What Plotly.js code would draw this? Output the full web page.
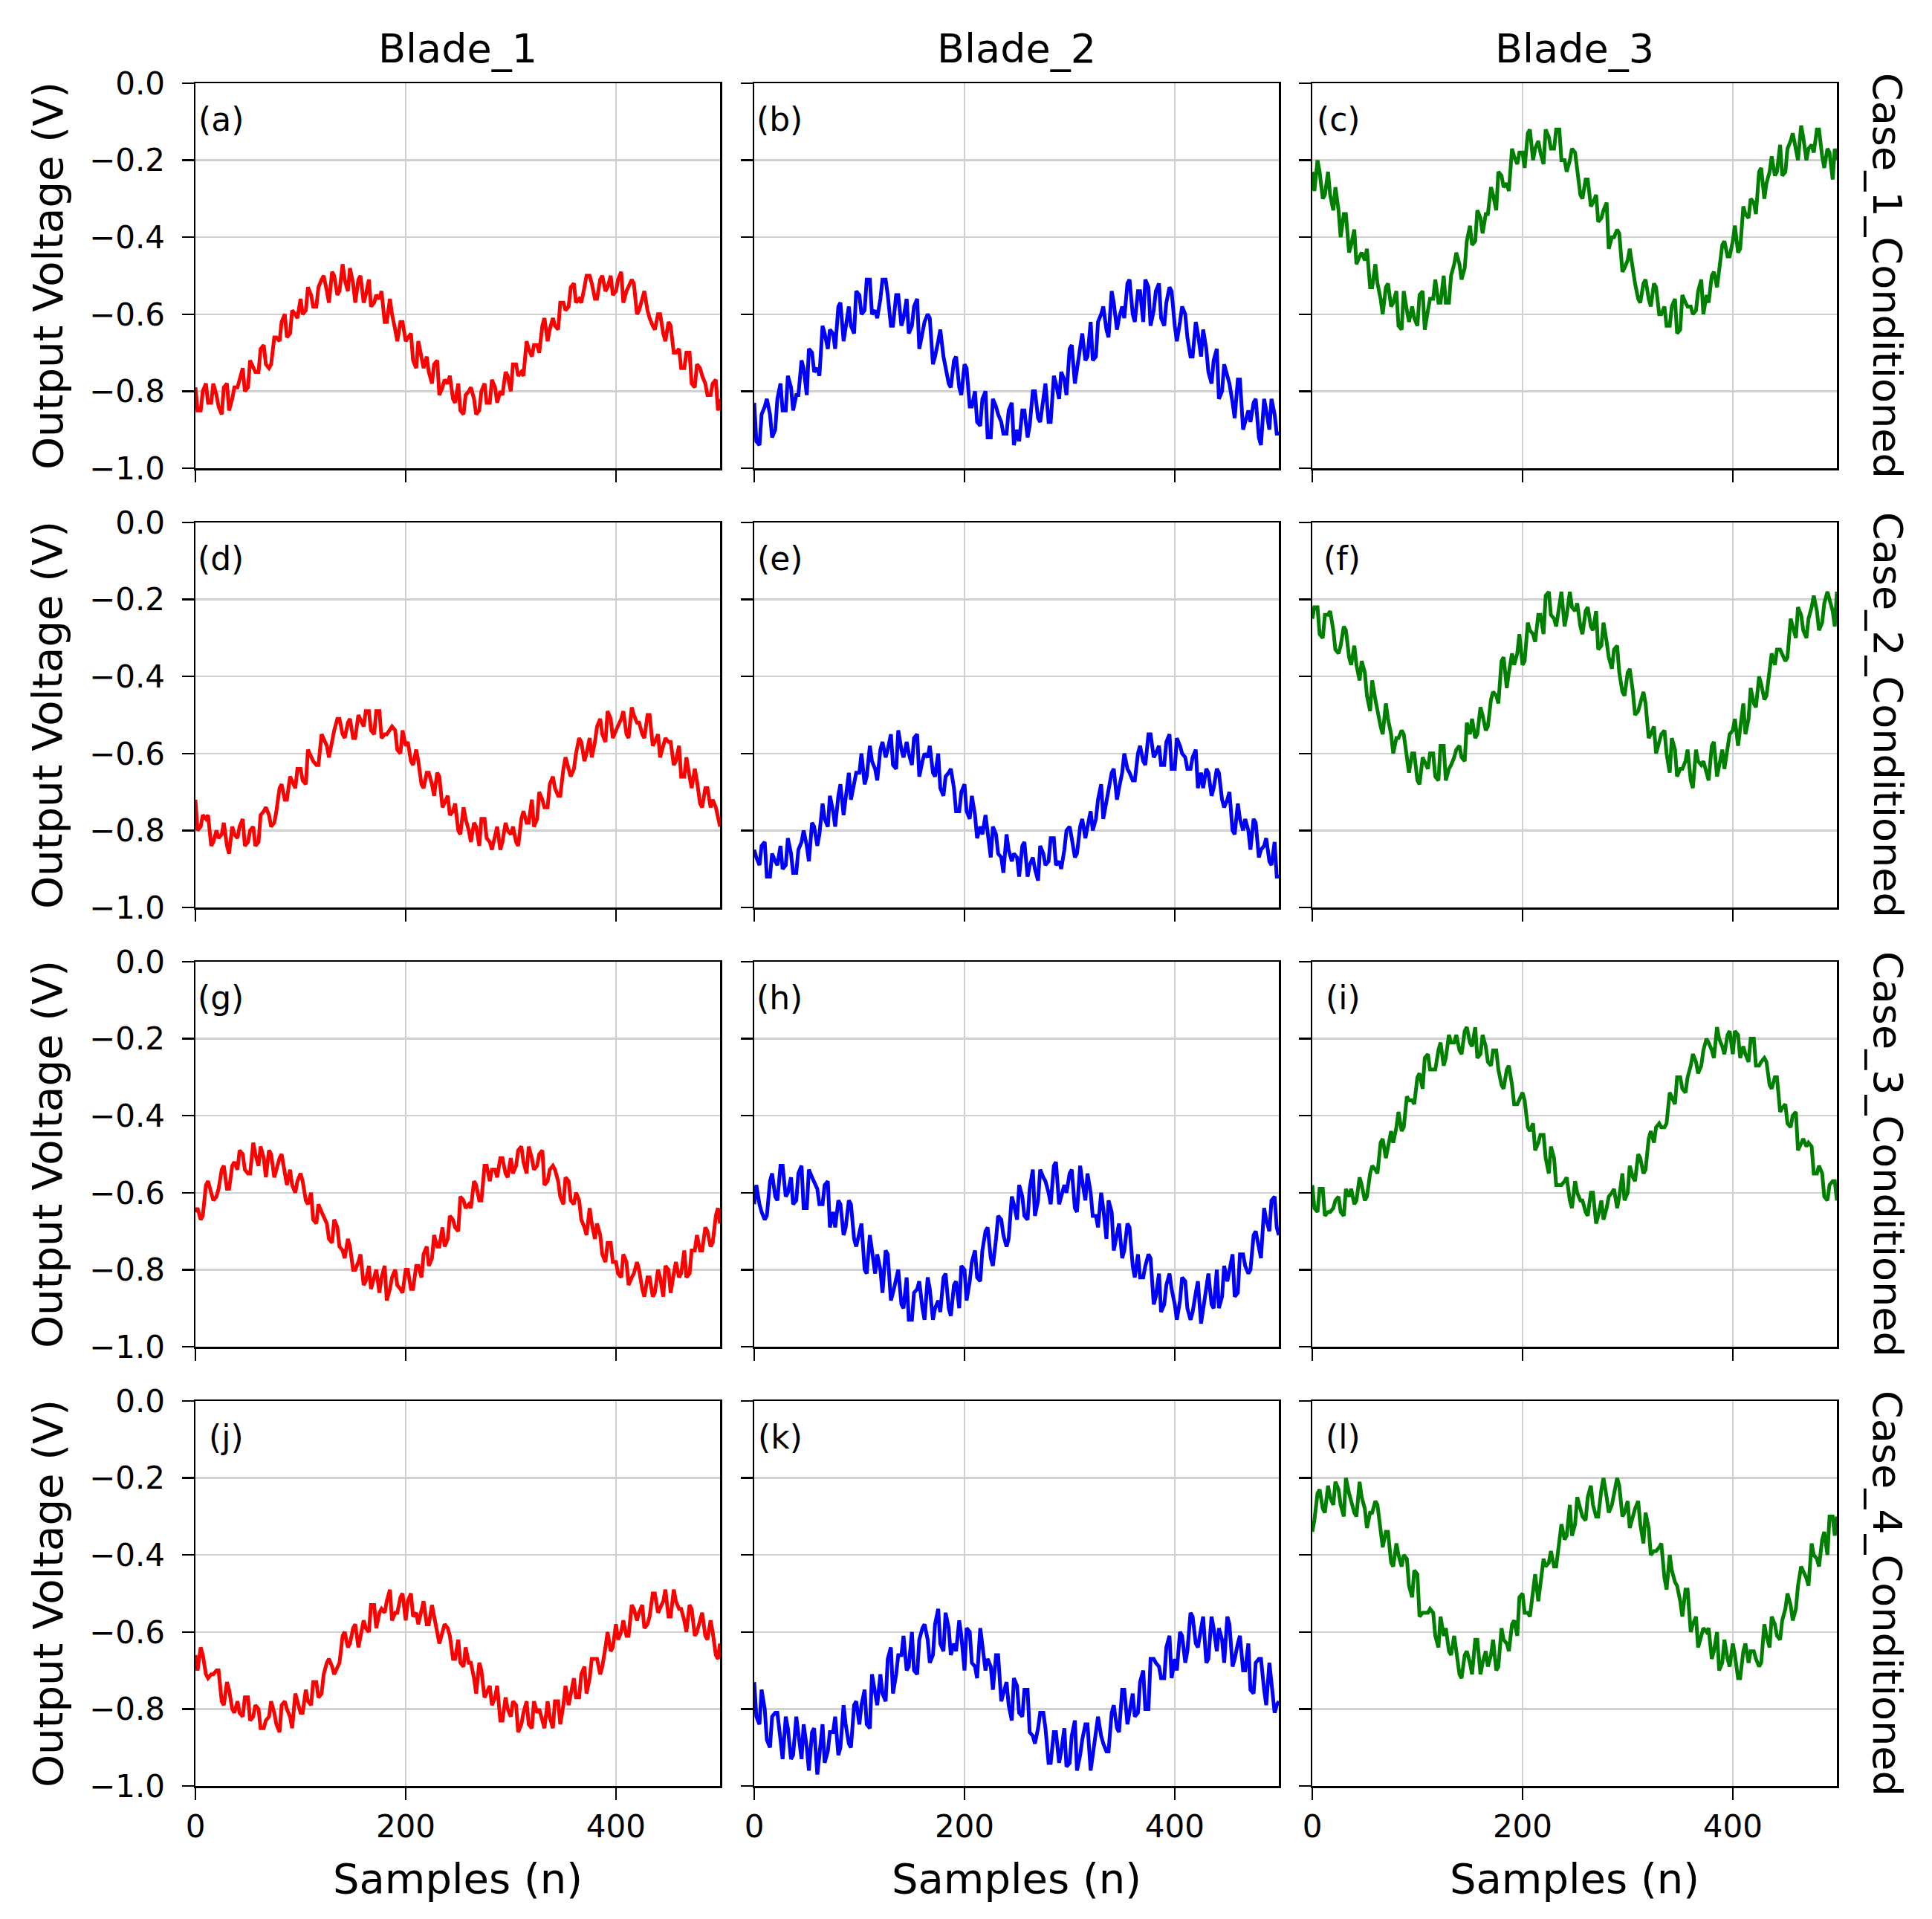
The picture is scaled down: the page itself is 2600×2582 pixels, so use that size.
<!DOCTYPE html>
<html>
<head>
<meta charset="utf-8">
<script src="https://cdn.plot.ly/plotly-3.0.1.min.js"></script>
<style>html,body{margin:0;padding:0;background:#ffffff;}</style>
</head>
<body>
<div id="chart" style="width:2600px;height:2582px;"></div>
<script>
// ---------------- data ----------------
const blades = ["Blade_1", "Blade_2", "Blade_3"];
const cases = ["Case_1_Conditioned", "Case_2_Conditioned", "Case_3_Conditioned", "Case_4_Conditioned"];
const panelLabels = ["(a)","(b)","(c)","(d)","(e)","(f)","(g)","(h)","(i)","(j)","(k)","(l)"];
const bladeColors = ["#ff0000", "#0000ff", "#008000"];
const xTickVals = [0, 200, 400];
const xTickText = ["0", "200", "400"];
const yTickVals = [0, -0.2, -0.4, -0.6, -0.8, -1.0];
const yTickText = ["0.0", "\u22120.2", "\u22120.4", "\u22120.6", "\u22120.8", "\u22121.0"];

// sample indices: readings at n = 0,5,...,495,499 and in-between readings at n = 2,7,...,497
const samplesMain = [];
for (let n = 0; n < 500; n += 5) samplesMain.push(n);
samplesMain.push(499);
const samplesMid = [];
for (let n = 2; n < 500; n += 5) samplesMid.push(n);

// Output voltage (V)
const case1_blade1 = [
-0.79,-0.85,-0.78,-0.83,-0.81,-0.86,-0.78,-0.82,-0.79,-0.74,
-0.79,-0.74,-0.75,-0.68,-0.74,-0.66,-0.67,-0.60,-0.65,-0.60,
-0.56,-0.59,-0.55,-0.58,-0.51,-0.54,-0.49,-0.55,-0.47,-0.54,
-0.52,-0.51,-0.57,-0.51,-0.57,-0.56,-0.62,-0.56,-0.64,-0.62,
-0.67,-0.65,-0.74,-0.71,-0.71,-0.78,-0.72,-0.79,-0.78,-0.82,
-0.78,-0.86,-0.80,-0.82,-0.85,-0.78,-0.83,-0.79,-0.80,-0.75,
-0.80,-0.73,-0.75,-0.67,-0.71,-0.68,-0.63,-0.67,-0.61,-0.64,
-0.57,-0.58,-0.52,-0.56,-0.53,-0.50,-0.56,-0.51,-0.54,-0.50,
-0.54,-0.49,-0.54,-0.51,-0.60,-0.56,-0.59,-0.63,-0.60,-0.65,
-0.62,-0.70,-0.69,-0.74,-0.70,-0.79,-0.74,-0.78,-0.81,-0.77,
-0.82];
const case1_blade1_mid = [
-0.85,-0.80,-0.83,-0.78,-0.84,-0.79,-0.85,-0.79,-0.77,-0.80,
-0.72,-0.75,-0.69,-0.73,-0.73,-0.66,-0.62,-0.66,-0.59,-0.61,
-0.60,-0.53,-0.58,-0.53,-0.50,-0.57,-0.50,-0.54,-0.51,-0.48,
-0.57,-0.50,-0.55,-0.58,-0.55,-0.54,-0.62,-0.60,-0.67,-0.62,
-0.66,-0.72,-0.67,-0.74,-0.75,-0.73,-0.81,-0.77,-0.76,-0.83,
-0.85,-0.81,-0.79,-0.86,-0.80,-0.83,-0.77,-0.83,-0.81,-0.76,
-0.73,-0.76,-0.76,-0.69,-0.68,-0.70,-0.61,-0.64,-0.63,-0.57,
-0.59,-0.53,-0.57,-0.57,-0.50,-0.52,-0.56,-0.50,-0.53,-0.55,
-0.51,-0.57,-0.53,-0.52,-0.59,-0.54,-0.61,-0.64,-0.60,-0.67,
-0.63,-0.70,-0.74,-0.70,-0.78,-0.73,-0.76,-0.81,-0.78,-0.85];
const case1_blade2 = [
-0.83,-0.94,-0.84,-0.86,-0.90,-0.78,-0.85,-0.79,-0.81,-0.72,
-0.81,-0.70,-0.74,-0.63,-0.69,-0.65,-0.58,-0.67,-0.58,-0.65,
-0.55,-0.59,-0.51,-0.59,-0.56,-0.51,-0.63,-0.55,-0.63,-0.56,
-0.63,-0.56,-0.65,-0.60,-0.73,-0.67,-0.71,-0.78,-0.72,-0.79,
-0.73,-0.84,-0.80,-0.89,-0.80,-0.92,-0.84,-0.88,-0.91,-0.83,
-0.90,-0.85,-0.92,-0.80,-0.87,-0.82,-0.88,-0.76,-0.82,-0.77,
-0.69,-0.78,-0.69,-0.72,-0.62,-0.71,-0.60,-0.64,-0.54,-0.64,
-0.58,-0.52,-0.60,-0.54,-0.62,-0.53,-0.59,-0.52,-0.63,-0.53,
-0.63,-0.62,-0.60,-0.71,-0.62,-0.71,-0.69,-0.78,-0.69,-0.80,
-0.76,-0.83,-0.77,-0.90,-0.85,-0.83,-0.92,-0.82,-0.90,-0.86,
-0.91];
const case1_blade2_mid = [
-0.93,-0.86,-0.82,-0.92,-0.82,-0.85,-0.76,-0.85,-0.81,-0.74,
-0.69,-0.75,-0.76,-0.65,-0.64,-0.69,-0.57,-0.63,-0.63,-0.54,
-0.60,-0.51,-0.60,-0.61,-0.51,-0.55,-0.63,-0.55,-0.61,-0.65,
-0.58,-0.69,-0.62,-0.61,-0.71,-0.64,-0.74,-0.79,-0.71,-0.81,
-0.74,-0.84,-0.88,-0.82,-0.92,-0.82,-0.86,-0.91,-0.85,-0.94,
-0.93,-0.85,-0.89,-0.80,-0.88,-0.78,-0.88,-0.78,-0.75,-0.81,
-0.68,-0.74,-0.65,-0.71,-0.72,-0.62,-0.58,-0.66,-0.57,-0.61,
-0.61,-0.51,-0.62,-0.54,-0.51,-0.63,-0.54,-0.61,-0.57,-0.54,
-0.67,-0.58,-0.66,-0.71,-0.65,-0.64,-0.75,-0.72,-0.82,-0.73,
-0.78,-0.87,-0.77,-0.88,-0.88,-0.82,-0.94,-0.85,-0.82,-0.91];
const case1_blade3 = [
-0.23,-0.20,-0.30,-0.23,-0.33,-0.33,-0.34,-0.44,-0.38,-0.45,
-0.46,-0.53,-0.47,-0.56,-0.53,-0.58,-0.54,-0.64,-0.59,-0.58,
-0.63,-0.54,-0.59,-0.56,-0.57,-0.50,-0.57,-0.47,-0.47,-0.48,
-0.37,-0.41,-0.35,-0.34,-0.27,-0.33,-0.24,-0.26,-0.17,-0.21,
-0.18,-0.13,-0.20,-0.15,-0.21,-0.14,-0.17,-0.12,-0.20,-0.20,
-0.18,-0.29,-0.25,-0.32,-0.29,-0.35,-0.31,-0.40,-0.38,-0.49,
-0.46,-0.49,-0.56,-0.52,-0.56,-0.52,-0.60,-0.58,-0.63,-0.56,
-0.64,-0.57,-0.58,-0.59,-0.51,-0.55,-0.50,-0.53,-0.42,-0.45,
-0.41,-0.44,-0.32,-0.35,-0.31,-0.23,-0.30,-0.23,-0.24,-0.16,
-0.23,-0.15,-0.17,-0.11,-0.20,-0.16,-0.12,-0.19,-0.17,-0.25,
-0.20];
const case1_blade3_mid = [
-0.28,-0.23,-0.29,-0.29,-0.27,-0.40,-0.34,-0.42,-0.47,-0.44,
-0.43,-0.53,-0.52,-0.60,-0.52,-0.57,-0.63,-0.54,-0.62,-0.61,
-0.55,-0.64,-0.56,-0.51,-0.57,-0.57,-0.50,-0.44,-0.51,-0.41,
-0.42,-0.33,-0.39,-0.34,-0.29,-0.23,-0.27,-0.28,-0.19,-0.18,
-0.22,-0.12,-0.17,-0.18,-0.12,-0.17,-0.12,-0.20,-0.23,-0.17,
-0.22,-0.30,-0.25,-0.31,-0.36,-0.33,-0.43,-0.40,-0.39,-0.48,
-0.43,-0.52,-0.57,-0.51,-0.58,-0.53,-0.60,-0.63,-0.58,-0.65,
-0.55,-0.58,-0.60,-0.54,-0.60,-0.57,-0.49,-0.49,-0.41,-0.45,
-0.37,-0.43,-0.34,-0.30,-0.34,-0.22,-0.26,-0.19,-0.23,-0.24,
-0.17,-0.13,-0.20,-0.14,-0.17,-0.18,-0.12,-0.22,-0.18,-0.17];
const case2_blade1 = [
-0.72,-0.79,-0.77,-0.84,-0.80,-0.81,-0.84,-0.79,-0.82,-0.77,
-0.83,-0.79,-0.83,-0.75,-0.76,-0.78,-0.69,-0.72,-0.66,-0.69,
-0.64,-0.68,-0.61,-0.63,-0.55,-0.58,-0.56,-0.51,-0.55,-0.52,
-0.56,-0.50,-0.53,-0.49,-0.55,-0.49,-0.55,-0.54,-0.54,-0.60,
-0.58,-0.62,-0.59,-0.68,-0.65,-0.68,-0.65,-0.74,-0.71,-0.75,
-0.80,-0.74,-0.80,-0.78,-0.84,-0.77,-0.83,-0.81,-0.85,-0.78,
-0.81,-0.83,-0.77,-0.78,-0.72,-0.77,-0.72,-0.74,-0.66,-0.71,
-0.64,-0.64,-0.64,-0.56,-0.62,-0.56,-0.57,-0.51,-0.57,-0.51,
-0.54,-0.51,-0.55,-0.48,-0.52,-0.55,-0.50,-0.58,-0.55,-0.58,
-0.57,-0.63,-0.58,-0.66,-0.66,-0.64,-0.73,-0.69,-0.74,-0.74,
-0.79];
const case2_blade1_mid = [
-0.80,-0.76,-0.76,-0.83,-0.82,-0.78,-0.86,-0.81,-0.79,-0.84,
-0.80,-0.84,-0.76,-0.74,-0.79,-0.75,-0.68,-0.72,-0.67,-0.64,
-0.67,-0.59,-0.62,-0.63,-0.56,-0.61,-0.54,-0.51,-0.56,-0.51,
-0.56,-0.51,-0.49,-0.54,-0.49,-0.56,-0.55,-0.53,-0.59,-0.54,
-0.57,-0.63,-0.62,-0.69,-0.65,-0.71,-0.66,-0.73,-0.76,-0.73,
-0.81,-0.77,-0.83,-0.79,-0.77,-0.82,-0.85,-0.79,-0.83,-0.80,
-0.79,-0.84,-0.75,-0.78,-0.79,-0.70,-0.74,-0.68,-0.69,-0.71,
-0.61,-0.66,-0.60,-0.57,-0.60,-0.61,-0.53,-0.55,-0.49,-0.56,
-0.53,-0.49,-0.56,-0.50,-0.52,-0.56,-0.50,-0.57,-0.61,-0.56,
-0.57,-0.62,-0.66,-0.61,-0.69,-0.67,-0.74,-0.69,-0.72,-0.77];
const case2_blade2 = [
-0.85,-0.89,-0.83,-0.92,-0.88,-0.84,-0.89,-0.86,-0.91,-0.83,
-0.84,-0.78,-0.84,-0.73,-0.79,-0.75,-0.71,-0.76,-0.65,-0.68,
-0.65,-0.68,-0.58,-0.64,-0.59,-0.61,-0.55,-0.64,-0.59,-0.57,
-0.63,-0.55,-0.62,-0.61,-0.65,-0.60,-0.71,-0.65,-0.69,-0.75,
-0.68,-0.77,-0.76,-0.79,-0.76,-0.87,-0.81,-0.87,-0.81,-0.88,
-0.87,-0.84,-0.92,-0.87,-0.93,-0.86,-0.88,-0.82,-0.88,-0.85,
-0.79,-0.87,-0.79,-0.82,-0.75,-0.77,-0.68,-0.72,-0.65,-0.72,
-0.65,-0.64,-0.67,-0.60,-0.62,-0.55,-0.61,-0.58,-0.63,-0.55,
-0.64,-0.58,-0.61,-0.64,-0.59,-0.65,-0.64,-0.71,-0.64,-0.72,
-0.72,-0.80,-0.73,-0.80,-0.80,-0.77,-0.87,-0.84,-0.88,-0.83,
-0.92];
const case2_blade2_mid = [
-0.87,-0.84,-0.92,-0.86,-0.89,-0.90,-0.82,-0.91,-0.85,-0.80,
-0.88,-0.79,-0.81,-0.77,-0.71,-0.79,-0.68,-0.71,-0.72,-0.65,
-0.60,-0.66,-0.62,-0.67,-0.57,-0.59,-0.63,-0.54,-0.61,-0.60,
-0.56,-0.66,-0.60,-0.58,-0.66,-0.69,-0.66,-0.64,-0.75,-0.70,
-0.75,-0.71,-0.82,-0.81,-0.80,-0.79,-0.86,-0.91,-0.85,-0.86,
-0.92,-0.83,-0.89,-0.90,-0.84,-0.89,-0.82,-0.89,-0.90,-0.80,
-0.82,-0.86,-0.77,-0.79,-0.80,-0.72,-0.77,-0.69,-0.64,-0.69,
-0.60,-0.65,-0.67,-0.58,-0.63,-0.55,-0.60,-0.63,-0.57,-0.64,
-0.56,-0.60,-0.64,-0.61,-0.69,-0.69,-0.65,-0.69,-0.65,-0.74,
-0.70,-0.81,-0.77,-0.77,-0.85,-0.78,-0.85,-0.82,-0.89,-0.92];
const case2_blade3 = [
-0.25,-0.22,-0.30,-0.24,-0.28,-0.34,-0.27,-0.35,-0.32,-0.41,
-0.39,-0.49,-0.46,-0.53,-0.47,-0.55,-0.56,-0.54,-0.62,-0.60,
-0.67,-0.61,-0.64,-0.60,-0.67,-0.58,-0.64,-0.61,-0.58,-0.62,
-0.55,-0.56,-0.48,-0.54,-0.46,-0.45,-0.36,-0.43,-0.34,-0.34,
-0.37,-0.26,-0.29,-0.24,-0.29,-0.18,-0.25,-0.21,-0.27,-0.18,
-0.23,-0.27,-0.23,-0.27,-0.23,-0.32,-0.31,-0.38,-0.32,-0.44,
-0.39,-0.44,-0.49,-0.44,-0.56,-0.53,-0.57,-0.54,-0.65,-0.59,
-0.64,-0.62,-0.67,-0.59,-0.63,-0.65,-0.58,-0.66,-0.59,-0.59,
-0.54,-0.58,-0.47,-0.51,-0.47,-0.40,-0.46,-0.37,-0.37,-0.33,
-0.36,-0.25,-0.30,-0.24,-0.30,-0.22,-0.23,-0.26,-0.18,-0.23,
-0.18];
const case2_blade3_mid = [
-0.22,-0.29,-0.24,-0.23,-0.33,-0.32,-0.28,-0.37,-0.37,-0.36,
-0.45,-0.41,-0.49,-0.55,-0.51,-0.60,-0.56,-0.55,-0.65,-0.60,
-0.68,-0.62,-0.60,-0.66,-0.58,-0.67,-0.63,-0.59,-0.61,-0.52,
-0.51,-0.55,-0.50,-0.53,-0.44,-0.47,-0.35,-0.39,-0.37,-0.29,
-0.36,-0.28,-0.31,-0.24,-0.19,-0.24,-0.27,-0.18,-0.24,-0.22,
-0.21,-0.29,-0.22,-0.28,-0.33,-0.26,-0.35,-0.33,-0.39,-0.45,
-0.38,-0.50,-0.47,-0.47,-0.55,-0.60,-0.55,-0.60,-0.56,-0.66,
-0.64,-0.59,-0.69,-0.62,-0.62,-0.67,-0.57,-0.63,-0.64,-0.55,
-0.51,-0.54,-0.55,-0.43,-0.48,-0.42,-0.45,-0.34,-0.33,-0.34,
-0.35,-0.27,-0.22,-0.28,-0.25,-0.19,-0.28,-0.21,-0.20,-0.27];
const case3_blade1 = [
-0.65,-0.67,-0.58,-0.60,-0.61,-0.54,-0.59,-0.53,-0.54,-0.50,
-0.55,-0.47,-0.53,-0.51,-0.49,-0.56,-0.51,-0.55,-0.54,-0.60,
-0.55,-0.62,-0.60,-0.68,-0.65,-0.68,-0.73,-0.69,-0.75,-0.72,
-0.80,-0.78,-0.84,-0.79,-0.82,-0.86,-0.79,-0.85,-0.80,-0.85,
-0.80,-0.85,-0.79,-0.82,-0.74,-0.77,-0.74,-0.69,-0.72,-0.67,
-0.70,-0.62,-0.63,-0.57,-0.62,-0.53,-0.57,-0.54,-0.51,-0.55,
-0.51,-0.53,-0.48,-0.55,-0.51,-0.53,-0.49,-0.57,-0.53,-0.57,
-0.63,-0.57,-0.63,-0.62,-0.69,-0.64,-0.72,-0.71,-0.78,-0.73,
-0.78,-0.82,-0.78,-0.82,-0.78,-0.85,-0.82,-0.87,-0.80,-0.87,
-0.80,-0.81,-0.82,-0.75,-0.81,-0.75,-0.75,-0.69,-0.74,-0.66,
-0.68];
const case3_blade1_mid = [
-0.64,-0.66,-0.57,-0.62,-0.59,-0.53,-0.59,-0.52,-0.49,-0.54,
-0.55,-0.50,-0.48,-0.56,-0.50,-0.54,-0.50,-0.58,-0.58,-0.57,
-0.57,-0.63,-0.67,-0.63,-0.66,-0.72,-0.67,-0.74,-0.77,-0.74,
-0.80,-0.76,-0.83,-0.85,-0.80,-0.82,-0.88,-0.82,-0.84,-0.86,
-0.80,-0.85,-0.79,-0.76,-0.79,-0.71,-0.74,-0.74,-0.66,-0.69,
-0.61,-0.64,-0.64,-0.58,-0.62,-0.53,-0.54,-0.56,-0.51,-0.56,
-0.55,-0.49,-0.52,-0.48,-0.54,-0.50,-0.58,-0.54,-0.54,-0.61,
-0.56,-0.62,-0.60,-0.67,-0.71,-0.68,-0.68,-0.76,-0.73,-0.78,
-0.81,-0.76,-0.84,-0.81,-0.80,-0.87,-0.82,-0.86,-0.82,-0.79,
-0.86,-0.78,-0.81,-0.82,-0.75,-0.71,-0.75,-0.70,-0.73,-0.64];
const case3_blade2 = [
-0.63,-0.63,-0.67,-0.57,-0.61,-0.53,-0.61,-0.56,-0.62,-0.53,
-0.64,-0.56,-0.59,-0.63,-0.57,-0.65,-0.62,-0.71,-0.62,-0.72,
-0.70,-0.80,-0.71,-0.81,-0.80,-0.75,-0.88,-0.82,-0.89,-0.82,
-0.93,-0.85,-0.90,-0.82,-0.93,-0.88,-0.82,-0.90,-0.84,-0.90,
-0.80,-0.83,-0.75,-0.83,-0.70,-0.77,-0.72,-0.67,-0.74,-0.61,
-0.67,-0.61,-0.67,-0.54,-0.62,-0.56,-0.60,-0.53,-0.63,-0.58,
-0.55,-0.64,-0.53,-0.62,-0.60,-0.66,-0.60,-0.72,-0.65,-0.70,
-0.77,-0.68,-0.79,-0.76,-0.82,-0.76,-0.89,-0.81,-0.89,-0.81,
-0.89,-0.88,-0.83,-0.93,-0.86,-0.94,-0.84,-0.89,-0.80,-0.87,
-0.83,-0.76,-0.86,-0.76,-0.81,-0.71,-0.75,-0.64,-0.70,-0.61,
-0.71];
const case3_blade2_mid = [
-0.58,-0.65,-0.66,-0.55,-0.62,-0.53,-0.60,-0.63,-0.55,-0.64,
-0.54,-0.57,-0.63,-0.58,-0.69,-0.69,-0.63,-0.69,-0.63,-0.74,
-0.68,-0.81,-0.75,-0.76,-0.86,-0.76,-0.86,-0.80,-0.90,-0.93,
-0.86,-0.83,-0.93,-0.85,-0.90,-0.91,-0.81,-0.92,-0.83,-0.79,
-0.88,-0.78,-0.82,-0.75,-0.69,-0.79,-0.66,-0.71,-0.72,-0.63,
-0.58,-0.66,-0.59,-0.66,-0.54,-0.57,-0.63,-0.52,-0.61,-0.60,
-0.54,-0.65,-0.57,-0.55,-0.66,-0.69,-0.64,-0.62,-0.75,-0.68,
-0.75,-0.69,-0.82,-0.82,-0.79,-0.77,-0.87,-0.91,-0.84,-0.85,
-0.93,-0.82,-0.90,-0.91,-0.83,-0.90,-0.81,-0.90,-0.90,-0.79,
-0.80,-0.87,-0.76,-0.79,-0.80,-0.70,-0.77,-0.67,-0.62,-0.69];
const case3_blade3 = [
-0.58,-0.65,-0.59,-0.65,-0.64,-0.61,-0.66,-0.61,-0.63,-0.56,
-0.62,-0.55,-0.54,-0.47,-0.51,-0.44,-0.43,-0.44,-0.35,-0.36,
-0.30,-0.33,-0.24,-0.28,-0.23,-0.27,-0.19,-0.21,-0.23,-0.18,
-0.21,-0.17,-0.24,-0.22,-0.27,-0.23,-0.32,-0.28,-0.32,-0.37,
-0.34,-0.43,-0.42,-0.47,-0.45,-0.55,-0.51,-0.58,-0.57,-0.62,
-0.57,-0.62,-0.65,-0.60,-0.68,-0.62,-0.64,-0.60,-0.64,-0.55,
-0.60,-0.56,-0.50,-0.55,-0.46,-0.47,-0.42,-0.43,-0.34,-0.37,
-0.30,-0.34,-0.27,-0.26,-0.27,-0.20,-0.23,-0.17,-0.22,-0.19,
-0.24,-0.19,-0.22,-0.26,-0.20,-0.27,-0.25,-0.32,-0.30,-0.39,
-0.37,-0.43,-0.39,-0.47,-0.48,-0.48,-0.55,-0.55,-0.62,-0.57,
-0.62];
const case3_blade3_mid = [
-0.64,-0.59,-0.66,-0.65,-0.62,-0.65,-0.59,-0.59,-0.62,-0.58,
-0.61,-0.53,-0.55,-0.46,-0.48,-0.47,-0.39,-0.43,-0.36,-0.37,
-0.29,-0.25,-0.28,-0.28,-0.21,-0.25,-0.21,-0.19,-0.24,-0.17,
-0.22,-0.25,-0.19,-0.26,-0.23,-0.28,-0.33,-0.27,-0.37,-0.36,
-0.36,-0.44,-0.49,-0.45,-0.51,-0.48,-0.58,-0.58,-0.56,-0.64,
-0.60,-0.62,-0.66,-0.60,-0.66,-0.67,-0.61,-0.59,-0.61,-0.62,
-0.53,-0.57,-0.51,-0.54,-0.44,-0.43,-0.43,-0.42,-0.35,-0.30,
-0.33,-0.30,-0.24,-0.29,-0.23,-0.21,-0.25,-0.20,-0.24,-0.18,
-0.18,-0.25,-0.24,-0.20,-0.27,-0.26,-0.26,-0.33,-0.30,-0.38,
-0.42,-0.40,-0.49,-0.46,-0.47,-0.55,-0.53,-0.61,-0.58,-0.57];
const case4_blade1 = [
-0.66,-0.64,-0.71,-0.71,-0.70,-0.78,-0.73,-0.80,-0.78,-0.82,
-0.77,-0.82,-0.80,-0.85,-0.82,-0.81,-0.86,-0.78,-0.82,-0.76,
-0.81,-0.75,-0.79,-0.73,-0.76,-0.68,-0.69,-0.69,-0.61,-0.64,
-0.59,-0.64,-0.57,-0.60,-0.53,-0.55,-0.55,-0.49,-0.55,-0.51,
-0.57,-0.50,-0.55,-0.54,-0.58,-0.53,-0.61,-0.60,-0.59,-0.67,
-0.62,-0.69,-0.68,-0.72,-0.68,-0.77,-0.74,-0.77,-0.83,-0.77,
-0.82,-0.79,-0.84,-0.78,-0.85,-0.81,-0.83,-0.78,-0.85,-0.78,
-0.79,-0.79,-0.72,-0.77,-0.69,-0.72,-0.67,-0.71,-0.64,-0.65,
-0.58,-0.60,-0.61,-0.53,-0.57,-0.53,-0.58,-0.50,-0.55,-0.52,
-0.56,-0.49,-0.54,-0.57,-0.53,-0.61,-0.57,-0.61,-0.57,-0.66,
-0.63];
const case4_blade1_mid = [
-0.70,-0.66,-0.72,-0.71,-0.70,-0.79,-0.75,-0.81,-0.81,-0.77,
-0.83,-0.79,-0.85,-0.83,-0.78,-0.84,-0.79,-0.80,-0.85,-0.78,
-0.81,-0.78,-0.73,-0.77,-0.71,-0.67,-0.71,-0.68,-0.60,-0.63,
-0.58,-0.61,-0.59,-0.53,-0.59,-0.54,-0.52,-0.57,-0.55,-0.50,
-0.52,-0.56,-0.58,-0.52,-0.58,-0.56,-0.63,-0.58,-0.61,-0.67,
-0.68,-0.64,-0.68,-0.76,-0.70,-0.76,-0.79,-0.74,-0.83,-0.80,
-0.78,-0.86,-0.81,-0.84,-0.78,-0.80,-0.85,-0.82,-0.78,-0.84,
-0.74,-0.76,-0.77,-0.71,-0.76,-0.67,-0.67,-0.69,-0.60,-0.64,
-0.62,-0.57,-0.61,-0.54,-0.55,-0.59,-0.56,-0.50,-0.54,-0.49,
-0.56,-0.52,-0.54,-0.60,-0.54,-0.60,-0.55,-0.62,-0.60,-0.67];
const case4_blade2 = [
-0.73,-0.84,-0.80,-0.90,-0.81,-0.88,-0.82,-0.93,-0.82,-0.93,
-0.90,-0.86,-0.97,-0.84,-0.91,-0.86,-0.92,-0.79,-0.89,-0.79,
-0.84,-0.75,-0.85,-0.76,-0.71,-0.78,-0.64,-0.71,-0.66,-0.70,
-0.60,-0.71,-0.59,-0.62,-0.66,-0.54,-0.65,-0.59,-0.63,-0.57,
-0.70,-0.60,-0.69,-0.59,-0.70,-0.69,-0.66,-0.78,-0.73,-0.83,
-0.74,-0.82,-0.75,-0.87,-0.85,-0.81,-0.94,-0.86,-0.94,-0.85,
-0.94,-0.83,-0.92,-0.84,-0.96,-0.86,-0.87,-0.91,-0.81,-0.85,
-0.75,-0.84,-0.76,-0.81,-0.70,-0.80,-0.67,-0.69,-0.72,-0.61,
-0.67,-0.60,-0.68,-0.55,-0.63,-0.59,-0.68,-0.56,-0.65,-0.62,
-0.56,-0.69,-0.63,-0.70,-0.63,-0.76,-0.67,-0.75,-0.68,-0.81,
-0.78];
const case4_blade2_mid = [
-0.82,-0.75,-0.88,-0.82,-0.81,-0.93,-0.85,-0.92,-0.87,-0.84,
-0.96,-0.85,-0.92,-0.94,-0.86,-0.82,-0.90,-0.84,-0.90,-0.78,
-0.79,-0.84,-0.71,-0.79,-0.76,-0.67,-0.76,-0.66,-0.61,-0.69,
-0.70,-0.62,-0.58,-0.68,-0.58,-0.63,-0.55,-0.66,-0.65,-0.61,
-0.59,-0.68,-0.72,-0.64,-0.67,-0.75,-0.66,-0.76,-0.79,-0.72,
-0.81,-0.75,-0.86,-0.89,-0.81,-0.85,-0.94,-0.86,-0.91,-0.95,
-0.87,-0.96,-0.88,-0.84,-0.92,-0.82,-0.89,-0.91,-0.79,-0.86,
-0.75,-0.81,-0.82,-0.73,-0.80,-0.67,-0.68,-0.72,-0.64,-0.72,
-0.70,-0.61,-0.65,-0.56,-0.64,-0.56,-0.67,-0.59,-0.59,-0.68,
-0.58,-0.67,-0.61,-0.70,-0.75,-0.68,-0.67,-0.79,-0.73,-0.79];
const case4_blade3 = [
-0.34,-0.24,-0.28,-0.22,-0.27,-0.23,-0.30,-0.24,-0.29,-0.21,
-0.28,-0.29,-0.26,-0.34,-0.34,-0.42,-0.37,-0.43,-0.41,-0.51,
-0.45,-0.55,-0.55,-0.55,-0.64,-0.61,-0.65,-0.61,-0.71,-0.66,
-0.68,-0.62,-0.71,-0.65,-0.66,-0.70,-0.59,-0.63,-0.58,-0.61,
-0.50,-0.55,-0.49,-0.52,-0.41,-0.42,-0.43,-0.35,-0.36,-0.27,
-0.32,-0.28,-0.31,-0.22,-0.30,-0.23,-0.25,-0.27,-0.20,-0.30,
-0.26,-0.30,-0.26,-0.37,-0.33,-0.39,-0.38,-0.46,-0.40,-0.47,
-0.52,-0.49,-0.60,-0.56,-0.61,-0.60,-0.67,-0.60,-0.68,-0.67,
-0.63,-0.72,-0.65,-0.68,-0.65,-0.69,-0.58,-0.64,-0.58,-0.62,
-0.54,-0.53,-0.54,-0.43,-0.46,-0.37,-0.41,-0.36,-0.40,-0.30,
-0.30];
const case4_blade3_mid = [
-0.31,-0.23,-0.29,-0.25,-0.21,-0.27,-0.20,-0.26,-0.30,-0.25,
-0.33,-0.29,-0.27,-0.38,-0.34,-0.43,-0.40,-0.40,-0.48,-0.44,
-0.56,-0.55,-0.54,-0.61,-0.56,-0.59,-0.66,-0.65,-0.72,-0.65,
-0.71,-0.62,-0.68,-0.69,-0.62,-0.69,-0.62,-0.65,-0.57,-0.51,
-0.55,-0.56,-0.45,-0.48,-0.43,-0.39,-0.43,-0.32,-0.35,-0.35,
-0.25,-0.30,-0.25,-0.27,-0.30,-0.20,-0.29,-0.24,-0.22,-0.29,
-0.33,-0.28,-0.32,-0.29,-0.40,-0.39,-0.37,-0.49,-0.44,-0.48,
-0.56,-0.49,-0.58,-0.64,-0.59,-0.59,-0.65,-0.70,-0.62,-0.69,
-0.66,-0.72,-0.63,-0.65,-0.67,-0.68,-0.61,-0.56,-0.61,-0.57,
-0.50,-0.57,-0.48,-0.44,-0.48,-0.40,-0.43,-0.34,-0.30,-0.35];

const seriesMain = [
  [case1_blade1, case1_blade2, case1_blade3],
  [case2_blade1, case2_blade2, case2_blade3],
  [case3_blade1, case3_blade2, case3_blade3],
  [case4_blade1, case4_blade2, case4_blade3]
];
const seriesMid = [
  [case1_blade1_mid, case1_blade2_mid, case1_blade3_mid],
  [case2_blade1_mid, case2_blade2_mid, case2_blade3_mid],
  [case3_blade1_mid, case3_blade2_mid, case3_blade3_mid],
  [case4_blade1_mid, case4_blade2_mid, case4_blade3_mid]
];

// merge the two sets of readings into one series ordered by sample index
function mergeReadings(xa, ya, xb, yb) {
  const x = [], y = [];
  let i = 0, j = 0;
  while (i < xa.length || j < xb.length) {
    if (j >= xb.length || (i < xa.length && xa[i] <= xb[j])) { x.push(xa[i]); y.push(ya[i]); i++; }
    else { x.push(xb[j]); y.push(yb[j]); j++; }
  }
  return {x: x, y: y};
}

// ---------------- layout ----------------
const W = 2600, H = 2582;
const FONT = "DejaVu Sans, Liberation Sans, sans-serif";
const colLeft = [263, 1015, 1766];
const panelW = 706;
const rowTop = [112, 703, 1294, 1885];
const panelH = 518;

const traces = [];
const layout = {
  width: W, height: H,
  margin: {l: 0, r: 0, t: 0, b: 0},
  paper_bgcolor: "#ffffff",
  plot_bgcolor: "#ffffff",
  showlegend: false,
  font: {family: FONT, color: "#000000"},
  annotations: []
};

for (let r = 0; r < 4; r++) {
  for (let c = 0; c < 3; c++) {
    const idx = r * 3 + c + 1;
    const sfx = idx === 1 ? "" : String(idx);
    const m = mergeReadings(samplesMain, seriesMain[r][c], samplesMid, seriesMid[r][c]);
    traces.push({
      type: "scatter", mode: "lines",
      x: m.x, y: m.y,
      xaxis: "x" + sfx, yaxis: "y" + sfx,
      line: {color: bladeColors[c], width: 5},
      hoverinfo: "skip"
    });
    const common = {
      ticks: "outside", ticklen: 16, tickwidth: 2.5, tickcolor: "#000000",
      showline: true, linecolor: "#000000", linewidth: 2.5, mirror: true,
      showgrid: true, gridcolor: "#d0d0d0", gridwidth: 2.5,
      zeroline: false, fixedrange: true,
      tickfont: {family: FONT, size: 42, color: "#000000"}
    };
    layout["xaxis" + sfx] = Object.assign({}, common, {
      domain: [colLeft[c] / W, (colLeft[c] + panelW) / W],
      anchor: "y" + sfx,
      range: [0, 499],
      tickmode: "array", tickvals: xTickVals, ticktext: xTickText,
      showticklabels: r === 3,
      ticklabelstandoff: 0
    });
    layout["yaxis" + sfx] = Object.assign({}, common, {
      domain: [1 - (rowTop[r] + panelH) / H, 1 - rowTop[r] / H],
      anchor: "x" + sfx,
      range: [-1, 0],
      tickmode: "array", tickvals: yTickVals, ticktext: yTickText,
      showticklabels: c === 0,
      ticklabelstandoff: 14
    });
    // panel label
    layout.annotations.push({
      text: panelLabels[idx - 1], showarrow: false,
      xref: "x" + sfx + " domain", yref: "y" + sfx + " domain",
      x: 67 / panelW, y: 1 - 48 / panelH,
      xanchor: "right", yanchor: "middle",
      font: {family: FONT, size: 44, color: "#000000"}
    });
  }
}

// column titles and x-axis titles
for (let c = 0; c < 3; c++) {
  const cx = (colLeft[c] + panelW / 2) / W;
  layout.annotations.push({
    text: blades[c], showarrow: false, xref: "paper", yref: "paper",
    x: cx, y: 1 - 65 / H, xanchor: "center", yanchor: "middle",
    font: {family: FONT, size: 54, color: "#000000"}
  });
  layout.annotations.push({
    text: "Samples (n)", showarrow: false, xref: "paper", yref: "paper",
    x: cx, y: 1 - 2527 / H, xanchor: "center", yanchor: "middle",
    font: {family: FONT, size: 56, color: "#000000"}
  });
}
// y-axis titles and row labels
for (let r = 0; r < 4; r++) {
  const cy = 1 - (rowTop[r] + panelH / 2) / H;
  layout.annotations.push({
    text: "Output Voltage (V)", showarrow: false, xref: "paper", yref: "paper",
    x: 64 / W, y: cy, xanchor: "center", yanchor: "middle", textangle: -90,
    font: {family: FONT, size: 56, color: "#000000"}
  });
  layout.annotations.push({
    text: cases[r], showarrow: false, xref: "paper", yref: "paper",
    x: 2540 / W, y: cy, xanchor: "center", yanchor: "middle", textangle: 90,
    font: {family: FONT, size: 54, color: "#000000"}
  });
}

Plotly.newPlot("chart", traces, layout, {displayModeBar: false, staticPlot: true});
</script>
</body>
</html>
